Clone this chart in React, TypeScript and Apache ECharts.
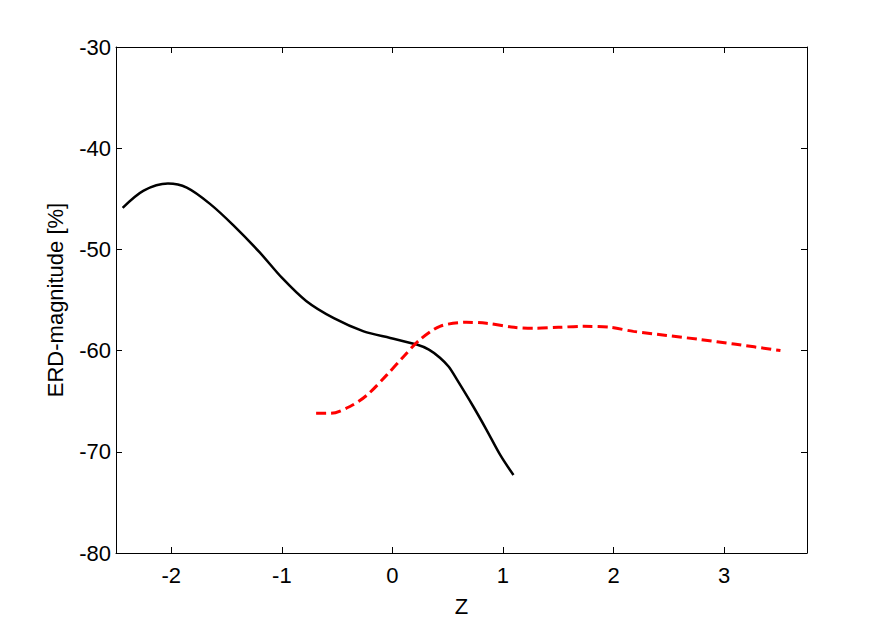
import React, { useEffect, useRef } from "react";
import * as echarts from "echarts";

const xTicks = [-2, -1, 0, 1, 2, 3];
const yTicks = [-80, -70, -60, -50, -40, -30];

const blackX = [-2.44, -2.25, -2.03, -1.86, -1.65, -1.44, -1.2, -1.0, -0.78, -0.53, -0.26, -0.02, 0.22, 0.33, 0.43, 0.51, 0.58, 0.73, 0.85, 0.975, 1.095];
const blackY = [-45.9, -44.2, -43.5, -43.9, -45.5, -47.6, -50.3, -52.8, -55.1, -56.8, -58.1, -58.75, -59.4, -59.9, -60.7, -61.6, -62.8, -65.5, -67.8, -70.3, -72.3];

const redX = [-0.69, -0.56, -0.38, -0.23, -0.05, 0.1, 0.25, 0.43, 0.67, 0.85, 1.1, 1.28, 1.5, 1.73, 1.97, 2.18, 2.48, 2.78, 3.09, 3.51];
const redY = [-66.2, -66.2, -65.5, -64.4, -62.4, -60.6, -58.9, -57.6, -57.2, -57.3, -57.7, -57.8, -57.7, -57.6, -57.7, -58.1, -58.5, -58.9, -59.35, -60.0];

const FONT = "'Liberation Sans', Arial, Helvetica, sans-serif";
const FS = 22;

export default function App() {
  const ref = useRef<HTMLDivElement>(null);
  useEffect(() => {
    if (!ref.current) return;
    const chart = echarts.init(ref.current, null, { renderer: "svg" });
    const axisLine = { show: true, onZero: false, lineStyle: { color: "#000", width: 1 } };
    const tick = { show: true, inside: true, length: 6, lineStyle: { color: "#000", width: 1 }, customValues: xTicks };
    const ytick = { show: true, inside: true, length: 6, lineStyle: { color: "#000", width: 1 } };
    chart.setOption({
      animation: false,
      backgroundColor: "#fff",
      textStyle: { fontFamily: FONT },
      grid: { left: 116, right: 85, top: 47, bottom: 68, containLabel: false },
      xAxis: [
        {
          type: "value",
          min: -2.5,
          max: 3.75,
          position: "bottom",
          axisLine,
          axisTick: tick,
          splitLine: { show: false },
          axisLabel: { customValues: xTicks, color: "#000", fontSize: FS, fontFamily: FONT, margin: 11 },
          name: "Z",
          nameLocation: "middle",
          nameGap: 42,
          nameTextStyle: { color: "#000", fontSize: FS, fontFamily: FONT },
        },
        {
          type: "value",
          min: -2.5,
          max: 3.75,
          position: "top",
          axisLine,
          axisTick: tick,
          splitLine: { show: false },
          axisLabel: { show: false },
        },
      ],
      yAxis: [
        {
          type: "value",
          min: -80,
          max: -30,
          interval: 10,
          position: "left",
          axisLine,
          axisTick: ytick,
          splitLine: { show: false },
          axisLabel: { color: "#000", fontSize: FS, fontFamily: FONT, margin: 5 },
          name: "ERD-magnitude [%]",
          nameLocation: "middle",
          nameGap: 50,
          nameTextStyle: { color: "#000", fontSize: FS, fontFamily: FONT },
        },
        {
          type: "value",
          min: -80,
          max: -30,
          interval: 10,
          position: "right",
          axisLine,
          axisTick: ytick,
          splitLine: { show: false },
          axisLabel: { show: false },
        },
      ],
      series: [
        {
          type: "line",
          data: blackX.map((x, i) => [x, blackY[i]]),
          smooth: 0.3,
          showSymbol: false,
          lineStyle: { color: "#000", width: 2.5 },
        },
        {
          type: "line",
          data: redX.map((x, i) => [x, redY[i]]),
          smooth: 0.3,
          showSymbol: false,
          lineStyle: { color: "#ff0000", width: 3, type: [10, 5] },
        },
      ],
    });
    return () => chart.dispose();
  }, []);
  return (
    <div
      ref={ref}
      style={{ position: "absolute", left: 0, top: 0, width: 892, height: 622 }}
    />
  );
}
